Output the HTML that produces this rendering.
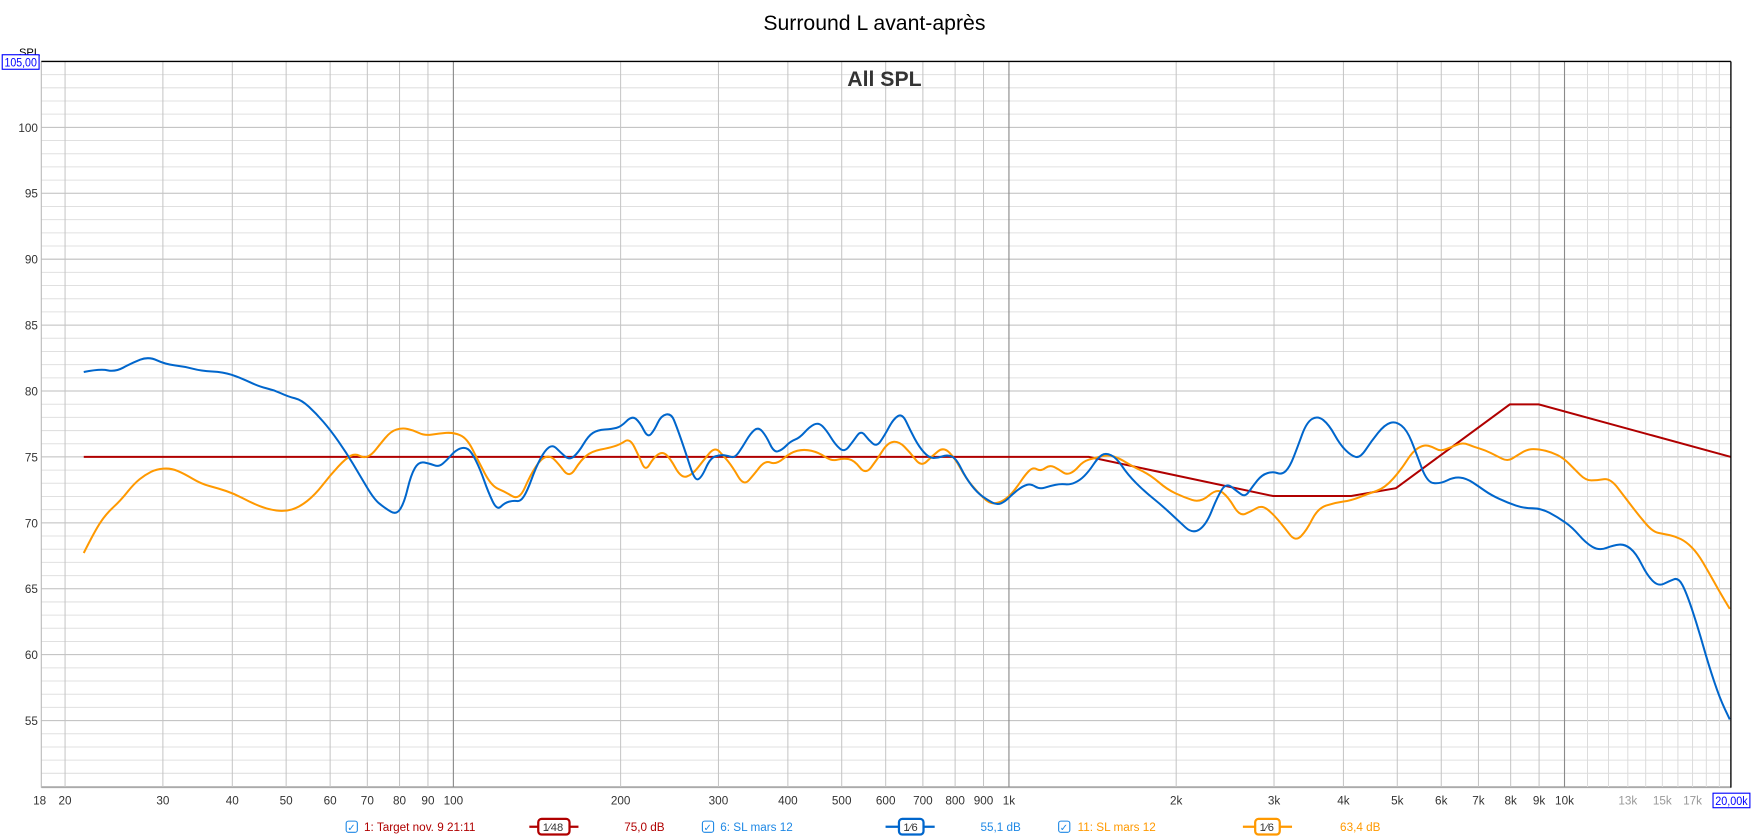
<!DOCTYPE html>
<html><head><meta charset="utf-8"><style>
html,body{margin:0;padding:0;background:#fff;}
svg{display:block;}
text{font-family:"Liberation Sans",sans-serif;}
</style></head><body>
<svg width="1751" height="839" viewBox="0 0 1568 751" preserveAspectRatio="none" xmlns="http://www.w3.org/2000/svg">
<rect width="1568" height="751" fill="#fff"/>
<g id="grid"></g>
<text x="783" y="27" font-size="19" text-anchor="middle" fill="#000">Surround L avant-après</text>
<text x="792" y="77" font-size="19" font-weight="bold" text-anchor="middle" fill="#333">All SPL</text>
<text x="17" y="50" font-size="10" fill="#000">SPL</text>
<rect x="2" y="49" width="33" height="13" fill="#fff" stroke="#00f" stroke-width="1"/>
<text x="4" y="59.5" font-size="10.5" fill="#00f" textLength="29" lengthAdjust="spacingAndGlyphs">105,00</text>
<g id="labels" font-size="10.5" fill="#333"></g>
<path id="red" fill="none" stroke="#b00000" stroke-width="1.8"/>
<path id="orange" fill="none" stroke="#ff9900" stroke-width="1.8"/>
<path id="blue" fill="none" stroke="#0066cc" stroke-width="1.8"/>
<line x1="37" y1="55" x2="1550" y2="55" stroke="#000" stroke-width="1.2"/>
<line x1="1550" y1="55" x2="1550" y2="705" stroke="#000" stroke-width="1.2"/>
<rect x="1534" y="710" width="33" height="13" fill="#fff" stroke="#00f"/>
<text x="1536" y="720.5" font-size="10.5" fill="#00f" textLength="29" lengthAdjust="spacingAndGlyphs">20,00k</text>
<g font-size="10.5">
<rect x="310" y="735" width="10" height="10" rx="2" fill="#fff" stroke="#1e88e5"/><text x="311" y="744" font-size="9" fill="#1e88e5">✓</text>
<text x="326" y="744" fill="#b00000">1: Target nov. 9 21:11</text>
<line x1="474" y1="740" x2="518" y2="740" stroke="#b00000" stroke-width="2"/>
<rect x="482" y="733" width="28" height="14" rx="3" fill="#fff" stroke="#b00000" stroke-width="2"/><text x="486" y="744" font-size="10" fill="#333">1⁄48</text>
<text x="559" y="744" fill="#b00000">75,0 dB</text>
<rect x="629" y="735" width="10" height="10" rx="2" fill="#fff" stroke="#1e88e5"/><text x="630" y="744" font-size="9" fill="#1e88e5">✓</text>
<text x="645" y="744" fill="#1e88e5">6: SL mars 12</text>
<line x1="793" y1="740" x2="837" y2="740" stroke="#0066cc" stroke-width="2"/>
<rect x="805" y="733" width="22" height="14" rx="3" fill="#fff" stroke="#0066cc" stroke-width="2"/><text x="809" y="744" font-size="10" fill="#333">1⁄6</text>
<text x="878" y="744" fill="#1e88e5">55,1 dB</text>
<rect x="948" y="735" width="10" height="10" rx="2" fill="#fff" stroke="#1e88e5"/><text x="949" y="744" font-size="9" fill="#1e88e5">✓</text>
<text x="965" y="744" fill="#ff9900">11: SL mars 12</text>
<line x1="1113" y1="740" x2="1157" y2="740" stroke="#ff9900" stroke-width="2"/>
<rect x="1124" y="733" width="22" height="14" rx="3" fill="#fff" stroke="#ff9900" stroke-width="2"/><text x="1128" y="744" font-size="10" fill="#333">1⁄6</text>
<text x="1200" y="744" fill="#ff9900">63,4 dB</text>
</g>
</svg>
<script>
var NS="http://www.w3.org/2000/svg";
function X(f){return 406+497.5*Math.log10(f/100);}
function Y(d){return 55+(105-d)*11.8;}
var g=document.getElementById('grid'),lb=document.getElementById('labels');
function ln(x1,y1,x2,y2,c,w){var l=document.createElementNS(NS,'line');l.setAttribute('x1',x1);l.setAttribute('y1',y1);l.setAttribute('x2',x2);l.setAttribute('y2',y2);l.setAttribute('stroke',c);l.setAttribute('stroke-width',w);g.appendChild(l);}
function tx(x,y,s,a,c){var t=document.createElementNS(NS,'text');t.setAttribute('x',x);t.setAttribute('y',y);t.setAttribute('text-anchor',a);if(c)t.setAttribute('fill',c);t.textContent=s;lb.appendChild(t);}
for(var d=50;d<105;d++){var y=Y(d);ln(37,y,1550,y,d%5==0?'#bdbdbd':'#e0e0e0',0.9);}
var fs=[20,30,40,50,60,70,80,90,200,300,400,500,600,700,800,900,2000,3000,4000,5000,6000,7000,8000,9000];
fs.forEach(function(f){ln(X(f),55,X(f),705,'#c4c4c4',0.9);});
for(var f=11000;f<20000;f+=1000)ln(X(f),55,X(f),705,'#dcdcdc',0.9);
[100,1000,10000].forEach(function(f){ln(X(f),55,X(f),705,'#8a8a8a',1);});
ln(37,55,37,705,'#bbb',1);ln(37,705,1550,705,'#aaa',1);
for(var d=55;d<=100;d+=5)tx(34,Y(d)+4,d,'end');
var lab=[[18,'18'],[20,'20'],[30,'30'],[40,'40'],[50,'50'],[60,'60'],[70,'70'],[80,'80'],[90,'90'],[100,'100'],[200,'200'],[300,'300'],[400,'400'],[500,'500'],[600,'600'],[700,'700'],[800,'800'],[900,'900'],[1000,'1k'],[2000,'2k'],[3000,'3k'],[4000,'4k'],[5000,'5k'],[6000,'6k'],[7000,'7k'],[8000,'8k'],[9000,'9k'],[10000,'10k']];
lab.forEach(function(a){tx(X(a[0]),720,a[1],'middle');});
[[13000,'13k'],[15000,'15k'],[17000,'17k']].forEach(function(a){tx(X(a[0]),720,a[1],'middle','#999');});
function P(id,pts){var d='M'+pts[0][0]+','+pts[0][1];for(var i=1;i<pts.length-1;i++){var mx=(pts[i][0]+pts[i+1][0])/2,my=(pts[i][1]+pts[i+1][1])/2;d+=' Q'+pts[i][0]+','+pts[i][1]+' '+mx+','+my;}var l=pts[pts.length-1];d+=' L'+l[0]+','+l[1];document.getElementById(id).setAttribute('d',d);}
document.getElementById('red').setAttribute('d','M75,409 L975,409 L1140,444 L1210,444 L1250,437 L1352,362 L1378,362 L1550,409');
P('blue',[[75,333],[90,330],[103,333],[118,325],[133,319],[148,326],[165,328],[180,332],[200,333],[215,338],[232,346],[245,349],[258,355],[270,358],[283,370],[296,385],[310,405],[322,425],[335,447],[345,455],[355,461],[362,450],[368,425],[375,413],[385,415],[393,418],[400,412],[408,403],[416,400],[422,404],[430,420],[437,440],[445,457],[452,450],[460,448],[466,449],[472,440],[480,418],[488,403],[495,398],[502,405],[510,412],[518,405],[527,390],[535,385],[548,384],[556,382],[566,372],[573,378],[580,392],[586,385],[592,372],[601,370],[606,382],[614,405],[622,430],[628,428],[636,410],[645,407],[652,408],[658,410],[665,400],[672,388],[679,382],[686,390],[693,405],[700,403],[708,395],[716,392],[725,382],[733,378],[740,385],[748,398],[756,405],[764,395],[771,385],[778,394],[785,400],[792,390],[800,375],[808,370],[815,385],[823,400],[832,410],[840,410],[848,407],[856,410],[865,428],[875,441],[885,448],[893,452],[900,449],[907,442],[916,435],[923,433],[931,438],[940,435],[950,433],[958,434],[967,430],[975,422],[983,410],[990,405],[1000,410],[1010,425],[1025,440],[1040,452],[1055,466],[1068,478],[1080,470],[1090,445],[1098,432],[1108,440],[1115,445],[1122,435],[1130,425],[1140,422],[1148,425],[1155,418],[1162,400],[1170,378],[1180,372],[1190,380],[1200,398],[1210,408],[1218,410],[1228,395],[1240,380],[1250,377],[1260,385],[1268,405],[1278,432],[1290,433],[1302,427],[1313,428],[1325,436],[1335,443],[1350,450],[1365,455],[1380,455],[1395,463],[1408,472],[1420,486],[1432,493],[1445,488],[1455,487],[1465,495],[1475,515],[1485,525],[1495,520],[1503,517],[1510,530],[1520,560],[1530,595],[1540,625],[1549,644]]);
P('orange',[[75,495],[85,475],[95,460],[108,448],[120,433],[130,425],[140,420],[153,419],[165,424],[180,433],[195,437],[210,442],[225,450],[240,456],[255,458],[268,454],[282,443],[296,425],[310,410],[318,406],[326,410],[333,407],[340,398],[350,386],[360,383],[370,385],[380,390],[393,388],[406,387],[418,392],[428,412],[440,435],[452,440],[465,448],[475,425],[485,410],[493,408],[500,415],[510,428],[520,412],[530,404],[545,401],[555,398],[564,392],[572,408],[578,422],[585,410],[593,404],[600,410],[610,428],[620,425],[630,412],[640,400],[648,408],[656,418],[666,435],[675,425],[685,412],[695,416],[708,405],[720,402],[733,405],[745,413],[755,410],[765,412],[775,425],[785,412],[795,396],[805,395],[815,405],[825,418],[835,408],[845,400],[855,410],[865,428],[875,440],[886,451],[895,450],[903,445],[910,437],[918,425],[925,418],[932,422],[940,416],[948,420],[955,425],[962,422],[970,413],[980,410],[992,407],[1002,410],[1015,418],[1030,425],[1045,438],[1060,445],[1075,450],[1090,437],[1100,445],[1110,462],[1120,458],[1130,452],[1140,460],[1150,472],[1160,485],[1170,475],[1180,455],[1195,450],[1210,448],[1225,442],[1240,437],[1255,420],[1265,404],[1275,398],[1283,400],[1290,404],[1300,400],[1310,396],[1320,400],[1330,403],[1340,408],[1350,413],[1358,408],[1368,402],[1378,402],[1390,405],[1400,410],[1410,420],[1420,430],[1430,430],[1442,428],[1455,445],[1468,462],[1480,476],[1490,478],[1500,480],[1510,485],[1520,495],[1530,512],[1540,530],[1549,545]]);
</script>
</body></html>
